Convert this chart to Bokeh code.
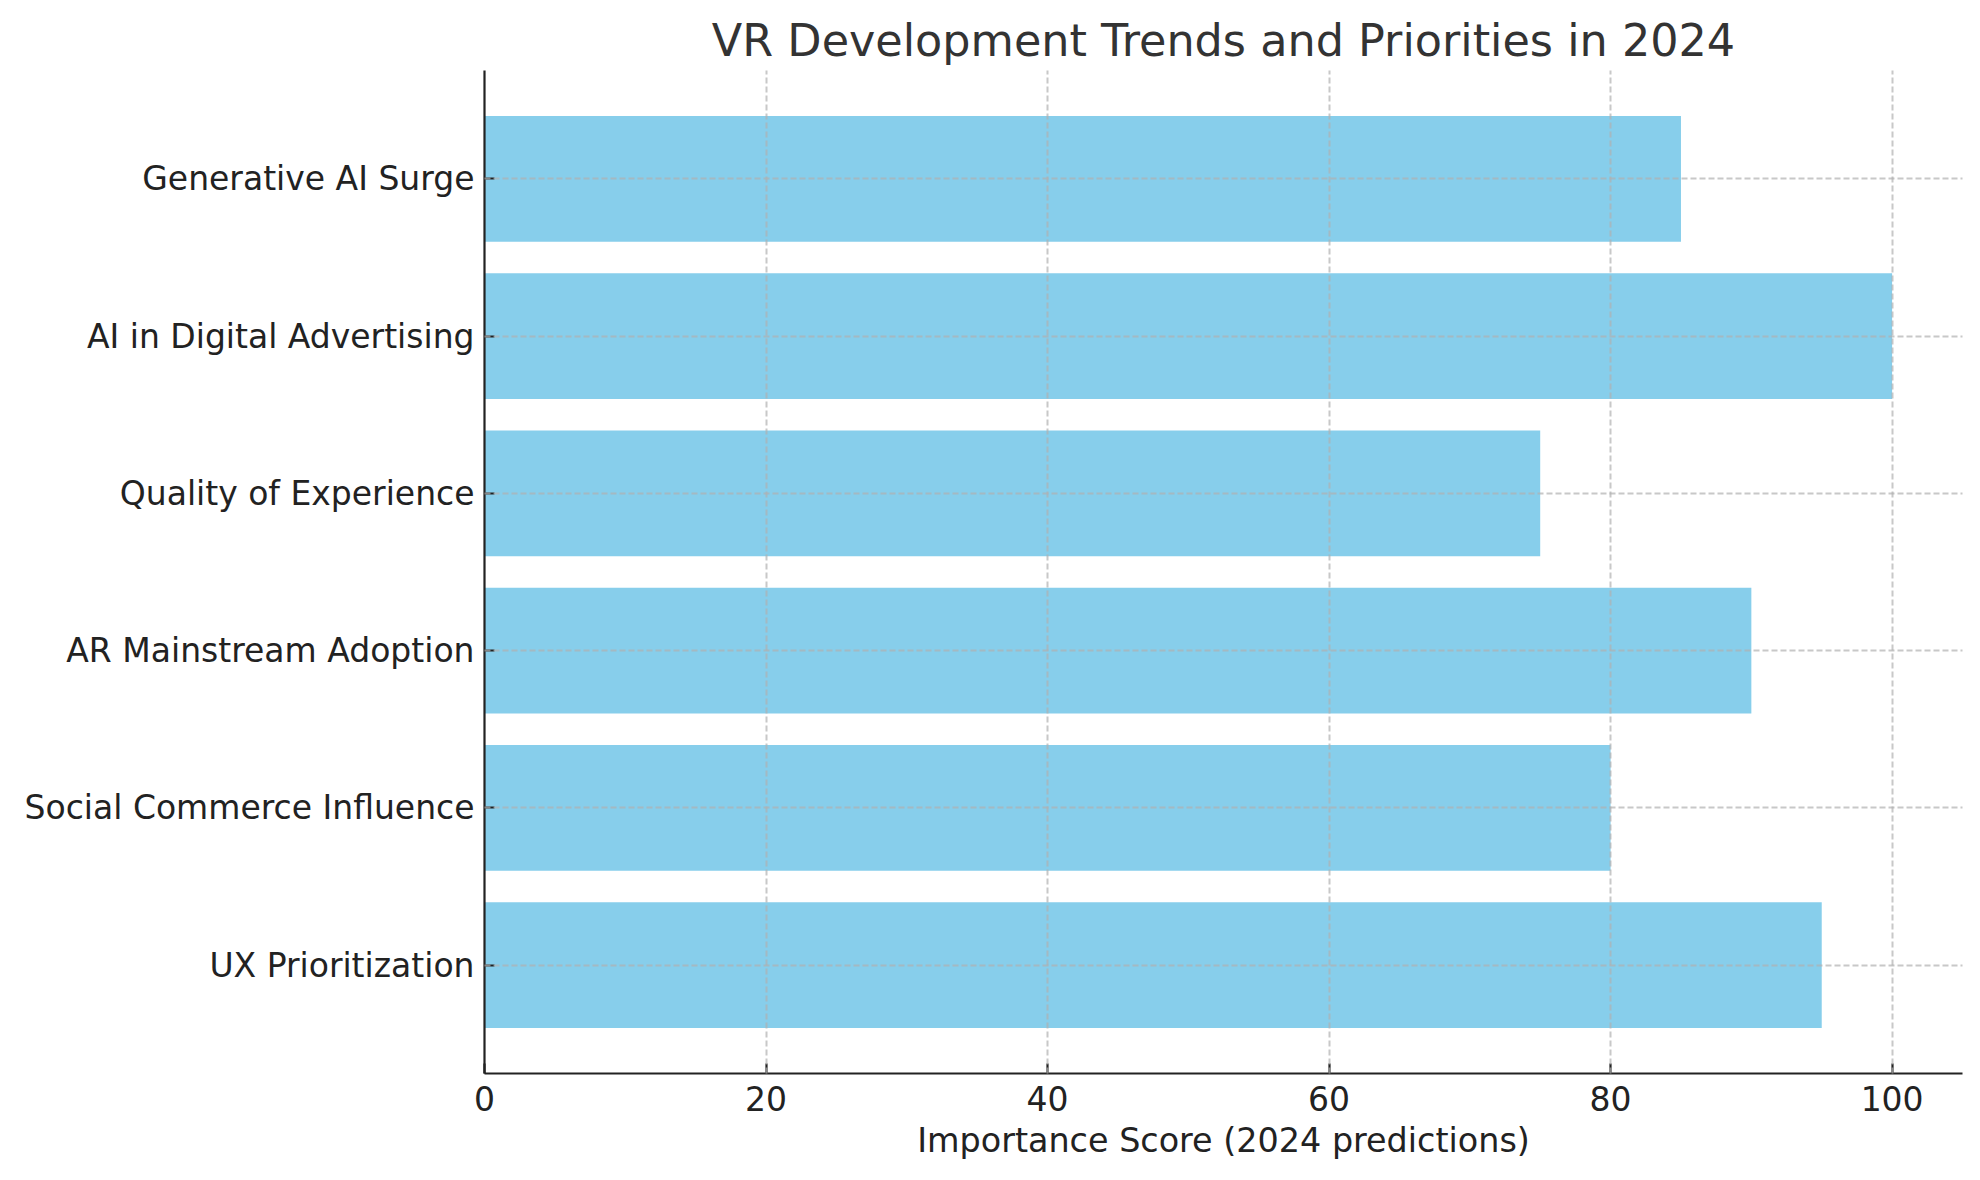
from bokeh.plotting import figure
from bokeh.models import FactorRange, Range1d, FixedTicker
from bokeh.embed import file_html
from bokeh.resources import INLINE

# Data (bottom to top, as in the chart)
trends = [
    "UX Prioritization",
    "Social Commerce Influence",
    "AR Mainstream Adoption",
    "Quality of Experience",
    "AI in Digital Advertising",
    "Generative AI Surge",
]
scores = [95, 80, 90, 75, 100, 85]
x_ticks = [0, 20, 40, 60, 80, 100]

FONT = "DejaVu Sans"

p = figure(
    width=1964, height=1164,
    y_range=FactorRange(factors=trends, range_padding=0.19, range_padding_units="absolute"),
    x_range=Range1d(0, 105),
    output_backend="svg", toolbar_location=None,
    min_border_left=484, min_border_right=2,
    min_border_top=70, min_border_bottom=91,
    title="VR Development Trends and Priorities in 2024",
)

p.hbar(y=trends, right=scores, left=0, height=0.8,
       fill_color="#87CEEB", line_color=None)

# title
p.title.align = "center"
p.title.text_font = FONT
p.title.text_font_size = "44.5px"
p.title.text_font_style = "normal"
p.title.text_color = "#333333"

p.outline_line_color = None

# grid drawn over the bars
for g in (p.xgrid, p.ygrid):
    g.grid_line_color = "#b0b0b0"
    g.grid_line_alpha = 0.7
    g.grid_line_dash = "6 3"
    g.grid_line_width = 2
    g.level = "overlay"

# axes
p.xaxis.ticker = FixedTicker(ticks=x_ticks)
p.xaxis.axis_label = "Importance Score (2024 predictions)"
for ax in (p.xaxis, p.yaxis):
    ax.axis_line_color = "#222222"
    ax.axis_line_width = 2.2
    ax.major_tick_line_color = "#222222"
    ax.major_tick_line_width = 2.2
    ax.major_tick_in = 10
    ax.major_tick_out = 0
    ax.minor_tick_line_color = None
    ax.major_label_text_font = FONT
    ax.major_label_text_font_size = "33px"
    ax.major_label_text_color = "#222222"
    ax.major_label_standoff = 12
    ax.axis_label_text_font = FONT
    ax.axis_label_text_font_size = "33.4px"
    ax.axis_label_text_font_style = "normal"
    ax.axis_label_text_color = "#222222"
p.yaxis.major_label_standoff = 10
p.xaxis.axis_label_standoff = 7

open("out.html", "w").write(file_html(p, INLINE))
